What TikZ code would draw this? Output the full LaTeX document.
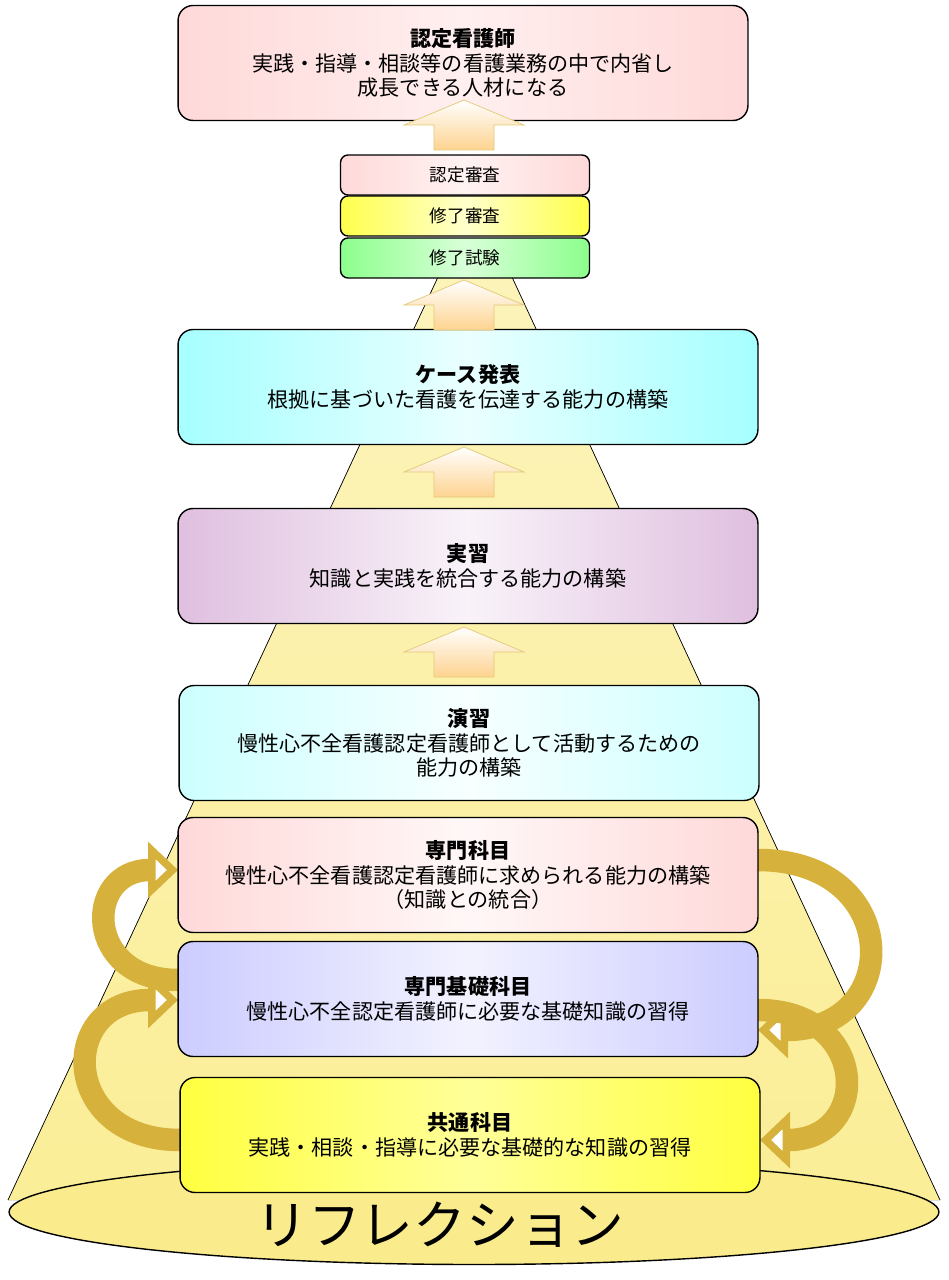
\documentclass[tikz,border=0pt]{standalone}
\usepackage{fontspec}
\setmainfont{Noto Sans CJK JP}
\usetikzlibrary{shapes.geometric,arrows.meta}
\definecolor{cone}{RGB}{250,236,140}
\definecolor{curl}{RGB}{214,178,60}
\begin{document}
\begin{tikzpicture}
	[x=0.02cm,y=-0.02cm,
	stage/.style={rectangle,rounded corners=3mm,draw=black,thick,minimum width=11.6cm,minimum height=2.3cm,align=center,font=\large,inner sep=2pt},
	exam/.style={rectangle,rounded corners=1.5mm,draw=black,thick,minimum width=4.98cm,minimum height=0.8cm,font=\normalsize},
	up/.pic={\draw[draw=curl!70,top color=white,bottom color=cone!50!orange!60] (0,-25) -- (60,0) -- (30,0) -- (30,25) -- (-30,25) -- (-30,0) -- (-60,0) -- cycle;},
	curlarrow/.style={draw=curl,line width=0.45cm,-{Triangle[length=0.6cm,width=1.1cm,fill=white]}}
	]
	\useasboundingbox (0,0) rectangle (948,1280);
	% cone of reflection
	\fill[top color=cone!60,bottom color=cone!90] (445,262) -- (505,262) -- (940,1200) -- (8,1200) -- cycle;
	\draw[thin] (445,262) -- (8,1200) (505,262) -- (940,1200);
	\node[ellipse,draw,thick,fill=cone,minimum width=18.6cm,minimum height=2.1cm] (base) at (474,1212) {};
	\node[font=\fontsize{30}{30}\selectfont] (refl) at (440,1225) {リフレクション};

	\node[stage,minimum width=11.4cm,left color=pink!60,right color=pink!60,middle color=pink!25] (goal) at (463,63) {\textbf{認定看護師}\\実践・指導・相談等の看護業務の中で内省し\\成長できる人材になる};
	\node[exam,left color=pink!60,right color=pink!60,middle color=pink!20] (ninsa) at (465,175) {認定審査};
	\node[exam,left color=yellow!70,right color=yellow!70,middle color=yellow!20] (shusa) at (465,216) {修了審査};
	\node[exam,left color=green!45,right color=green!45,middle color=green!15] (shushi) at (465,258) {修了試験};
	\node[stage,left color=cyan!35,right color=cyan!35,middle color=cyan!8] (case) at (468,387) {\textbf{ケース発表}\\根拠に基づいた看護を伝達する能力の構築};
	\node[stage,left color=violet!25,right color=violet!25,middle color=violet!5] (jisshu) at (468,566) {\textbf{実習}\\知識と実践を統合する能力の構築};
	\node[stage,left color=cyan!20,right color=cyan!20,middle color=cyan!3] (enshu) at (469,743) {\textbf{演習}\\慢性心不全看護認定看護師として活動するための\\能力の構築};

	\pic at (464,125) {up};
	\pic at (464,305) {up};
	\pic at (464,472) {up};
	\pic at (464,652) {up};

	\coordinate (senmonW) at (178,870);
	\coordinate (kisoW) at (178,990);
	\coordinate (senmonE) at (758,860);
	\coordinate (kisoE) at (758,1010);
	\coordinate (kyotsuW) at (180,1130);
	\coordinate (kyotsuE) at (760,1130);
	\draw[curlarrow] ([yshift=0.2cm]kisoW) to[out=180,in=180,looseness=2.2] (senmonW);
	\draw[curlarrow] (senmonE) to[out=0,in=0,looseness=2.2] ([yshift=-0.4cm]kisoE);
	\draw[curlarrow] ([yshift=-0.2cm]kyotsuW) to[out=180,in=180,looseness=2.2] ([yshift=-0.2cm]kisoW);
	\draw[curlarrow] (kisoE) to[out=0,in=0,looseness=2.2] ([yshift=-0.2cm]kyotsuE);

	\node[stage,left color=red!15,right color=red!15,middle color=red!3] (senmon) at (468,875) {\textbf{専門科目}\\慢性心不全看護認定看護師に求められる能力の構築\\（知識との統合）};
	\node[stage,left color=blue!20,right color=blue!20,middle color=blue!5] (kiso) at (468,999) {\textbf{専門基礎科目}\\慢性心不全認定看護師に必要な基礎知識の習得};
	\node[stage,left color=yellow!75,right color=yellow!75,middle color=yellow!40] (kyotsu) at (470,1135) {\textbf{共通科目}\\実践・相談・指導に必要な基礎的な知識の習得};
\end{tikzpicture}
\end{document}
